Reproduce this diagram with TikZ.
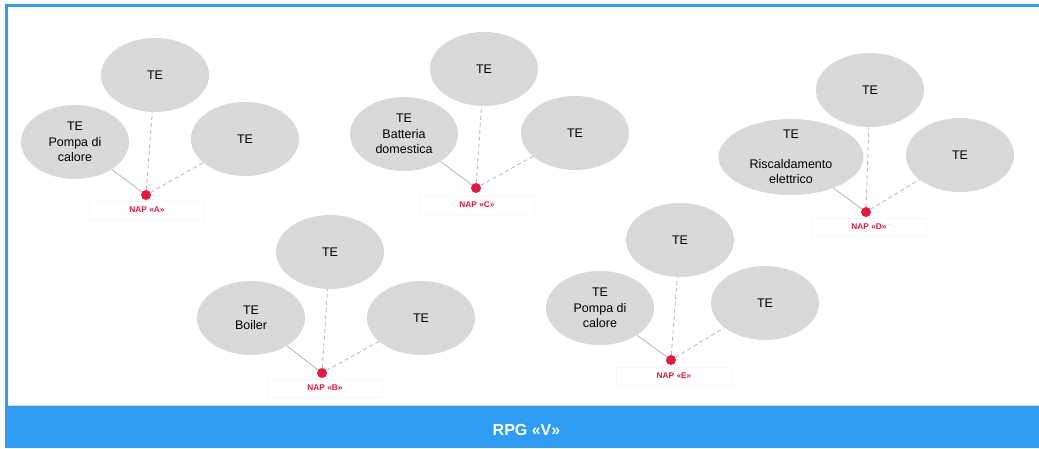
\documentclass[tikz,border=0pt]{standalone}
\usepackage{fontspec}
\setmainfont{Liberation Sans}
\usetikzlibrary{shapes.geometric}
\definecolor{tegray}{HTML}{D9D9D9}
\definecolor{linegray}{HTML}{BDBDBD}
\definecolor{napred}{HTML}{E8173F}
\definecolor{rpgblue}{HTML}{2E9CF3}
\tikzstyle{te}=[ellipse, fill=tegray, inner sep=0pt, minimum width=108pt, minimum height=74pt, align=center, font=\fontsize{12.5}{15.5}\selectfont]
\tikzstyle{nap}=[circle, fill=napred, inner sep=0pt, minimum size=10pt]
\tikzstyle{naplabel}=[draw=black!3, text=napred, font=\fontsize{8.3}{10}\selectfont\bfseries, minimum width=115pt, minimum height=18pt, inner sep=0pt]
\tikzstyle{link}=[draw=linegray, line width=0.9pt]
\tikzstyle{dlink}=[link, dash pattern=on 4pt off 3pt]
\newcommand{\te}{\node[te]}
\newcommand{\nap}{\node[nap]}

\begin{document}
\begin{tikzpicture}[x=1pt, y=-1pt]
            \useasboundingbox (0,0) rectangle (1039,448);
            % frame and RPG bar
            \fill[rpgblue] (5,406) rectangle (1039,448);
            \draw[rpgblue, line width=2.5pt] (6.5,406) -- (6.5,5.5) -- (1039,5.5);
            \draw[black!15] (8,405.5) -- (1039,405.5);
            \node[text=white, font=\fontsize{16}{19}\selectfont\bfseries] (rpg) at (526.5,430) {RPG «V»};
            % NAP A
            \node[naplabel] (al) at (147,210) {NAP «A»};
            \te (a1) at (155,75) {TE};
            \te (a2) at (75,142) {TE\\Pompa di\\calore};
            \te (a3) at (245,139) {TE};
            \nap (a) at (146,195) {};
            % NAP C
            \node[naplabel] (cl) at (477,205) {NAP «C»};
            \te (c1) at (484,69) {TE};
            \te (c2) at (404,134) {TE\\Batteria\\domestica};
            \te (c3) at (575,133) {TE};
            \nap (c) at (476,188) {};
            % NAP D
            \node[naplabel] (dl) at (869,227) {NAP «D»};
            \te (d1) at (870,90) {TE};
            \te[minimum width=145pt] (d2) at (791,157) {TE\\[14pt]Riscaldamento\\elettrico};
            \te (d3) at (960,155) {TE};
            \nap (d) at (866,212) {};
            % NAP B
            \node[naplabel] (bl) at (325,388) {NAP «B»};
            \te (b1) at (330,252) {TE};
            \te (b2) at (251,318) {TE\\Boiler};
            \te (b3) at (421,318) {TE};
            \nap (b) at (322,373) {};
            % NAP E
            \node[naplabel] (el) at (674,376) {NAP «E»};
            \te (e1) at (680,240) {TE};
            \te (e2) at (600,308) {TE\\Pompa di\\calore};
            \te (e3) at (765,303) {TE};
            \nap (e) at (671,360) {};
            \path
                (a) edge[link] (a2) edge[dlink] (a1) edge[dlink] (a3)
                (c) edge[link] (c2) edge[dlink] (c1) edge[dlink] (c3)
                (d) edge[link] (d2) edge[dlink] (d1) edge[dlink] (d3)
                (b) edge[link] (b2) edge[dlink] (b1) edge[dlink] (b3)
                (e) edge[link] (e2) edge[dlink] (e1) edge[dlink] (e3)
            ;
        \end{tikzpicture}
\end{document}
